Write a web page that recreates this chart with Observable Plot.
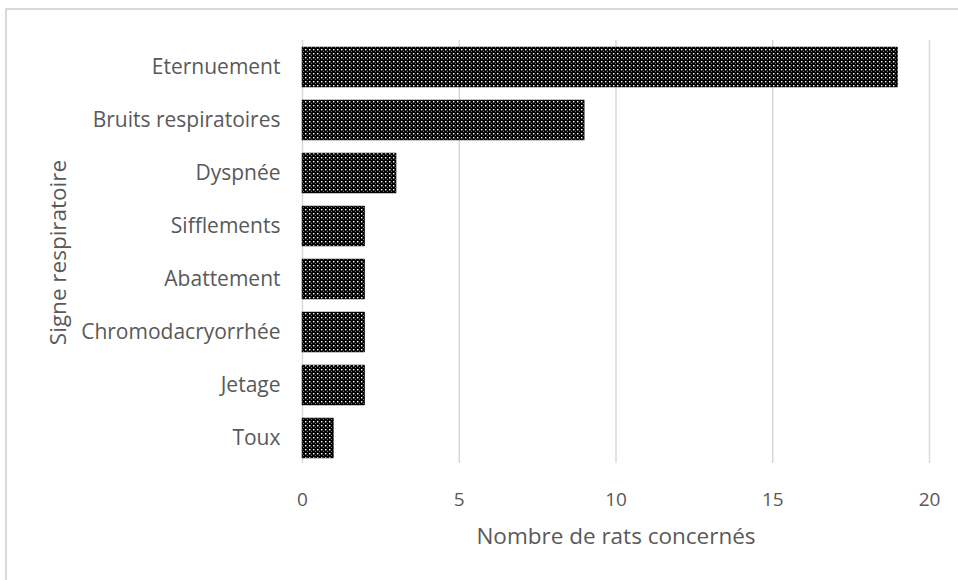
<!DOCTYPE html>
<html>
<head>
<meta charset="utf-8">
<script src="https://cdn.jsdelivr.net/npm/d3@7"></script>
<script src="https://cdn.jsdelivr.net/npm/@observablehq/plot@0.6"></script>
<style>
  html, body { margin: 0; padding: 0; background: #fff; overflow: hidden; }
  #wrap { position: relative; width: 958px; height: 580px; }
  #border { position: absolute; left: 5px; top: 8px; width: 1000px; height: 1000px;
            border-top: 2px solid #d9d9d9; border-left: 2px solid #d9d9d9; box-sizing: border-box; }
  #chart { position: absolute; left: 0; top: 0; }
</style>
</head>
<body>
<div id="wrap"><div id="border"></div><div id="chart"></div></div>
<script>
const categories = ["Eternuement", "Bruits respiratoires", "Dyspnée", "Sifflements", "Abattement", "Chromodacryorrhée", "Jetage", "Toux"];
const values = [19, 9, 3, 2, 2, 2, 2, 1];
const xTicks = [0, 5, 10, 15, 20];
const xLabel = "Nombre de rats concernés";
const yLabel = "Signe respiratoire";

const data = categories.map((c, i) => ({ signe: c, n: values[i] }));

const font = "'Open Sans', 'Noto Sans', sans-serif";
const gray = "#595959";
const plot = Plot.plot({
  width: 958,
  height: 580,
  marginLeft: 302,
  marginRight: 29,
  marginTop: 37,
  marginBottom: 113,
  style: { fontFamily: font, fontSize: "19px", color: gray, background: "transparent" },
  x: { domain: [0, 20] },
  y: { domain: categories, paddingInner: 0.25, paddingOuter: 0.125 },
  marks: [
    Plot.ruleX(xTicks, { stroke: "#d9d9d9", strokeWidth: 1.5, insetTop: 3, insetBottom: 4 }),
    Plot.barX(data, { y: "signe", x: "n", fill: "url(#dots)", stroke: "#111", strokeWidth: 0.5 }),
    Plot.axisX({ ticks: xTicks, tickSize: 0, tickPadding: 25, label: null, fill: gray, fontSize: 19 }),
    Plot.axisY({ tickSize: 0, tickPadding: 22, label: null, fill: gray, fontSize: 21 }),
    Plot.text([xLabel], { frameAnchor: "bottom", lineAnchor: "middle", dy: 69, fill: gray, fontSize: 22.5 }),
    Plot.text([yLabel], { frameAnchor: "left", textAnchor: "middle", lineAnchor: "middle", dx: -244, rotate: -90, fill: gray, fontSize: 22.5 })
  ]
});

// pattern fill for bars
const ns = "http://www.w3.org/2000/svg";
const defs = document.createElementNS(ns, "defs");
defs.innerHTML = `
  <pattern id="dots" patternUnits="userSpaceOnUse" width="4" height="4">
    <rect width="4" height="4" fill="#000"/>
    <rect x="1" y="1" width="1.4" height="1.4" fill="#fff"/>
    <rect x="3" y="3" width="0.8" height="0.8" fill="#bbb"/>
  </pattern>`;
plot.insertBefore(defs, plot.firstChild);
document.getElementById("chart").appendChild(plot);
</script>
</body>
</html>
